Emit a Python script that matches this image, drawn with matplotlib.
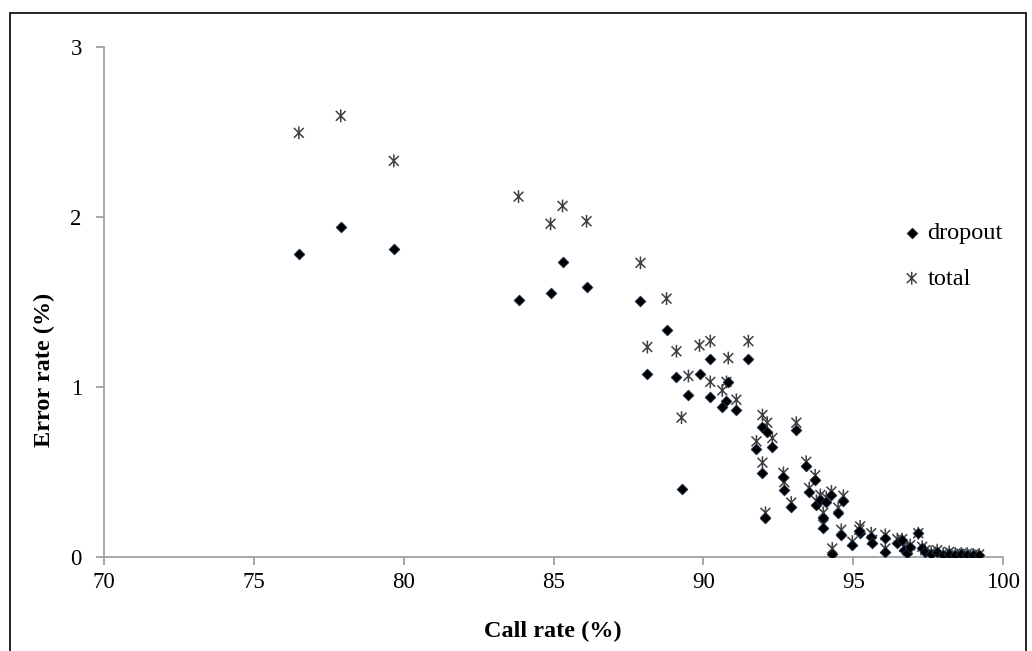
import numpy as np
import matplotlib.pyplot as plt
from matplotlib.path import Path
from matplotlib.patches import Rectangle

# call rate (%) shared by both series
call_rate = [76.5, 77.9, 79.67, 83.83, 84.9, 85.3, 86.1, 87.9, 88.77, 88.13,
             89.1, 89.27, 89.5, 89.87, 90.23, 91.5, 90.23, 90.83, 90.77, 90.63,
             91.1, 91.97, 92.13, 93.1, 91.77, 92.3, 91.97, 92.67, 92.7, 93.43,
             93.73, 93.53, 92.93, 93.77, 93.9, 94.1, 94.27, 94.67, 94.5, 94.0,
             94.0, 94.6, 95.23, 95.2, 94.97, 95.6, 95.63, 96.07, 96.07, 94.3,
             96.47, 96.63, 96.7, 96.8, 97.17, 92.07,
             96.9, 97.3, 97.4, 97.6, 97.8, 98.0, 98.2, 98.4, 98.6, 98.8,
             99.0, 99.2]

dropout = [1.78, 1.94, 1.81, 1.51, 1.55, 1.735, 1.59, 1.505, 1.335, 1.075,
           1.06, 0.40, 0.95, 1.075, 1.165, 1.165, 0.94, 1.03, 0.92, 0.88,
           0.865, 0.765, 0.735, 0.745, 0.635, 0.645, 0.495, 0.47, 0.395, 0.535,
           0.455, 0.38, 0.295, 0.305, 0.335, 0.325, 0.365, 0.33, 0.26, 0.23,
           0.17, 0.13, 0.14, 0.155, 0.07, 0.12, 0.08, 0.11, 0.03, 0.02,
           0.08, 0.10, 0.04, 0.025, 0.14, 0.23,
           0.06, 0.05, 0.03, 0.02, 0.03, 0.01, 0.02, 0.01, 0.015, 0.01,
           0.01, 0.01]

total = [2.495, 2.595, 2.33, 2.12, 1.96, 2.065, 1.975, 1.73, 1.52, 1.235,
         1.21, 0.82, 1.065, 1.245, 1.27, 1.27, 1.03, 1.17, 1.03, 0.98,
         0.925, 0.835, 0.79, 0.79, 0.68, 0.70, 0.555, 0.495, 0.44, 0.56,
         0.48, 0.405, 0.32, 0.33, 0.365, 0.35, 0.385, 0.36, 0.29, 0.26,
         0.19, 0.16, 0.18, 0.16, 0.09, 0.14, 0.10, 0.13, 0.05, 0.05,
         0.105, 0.105, 0.06, 0.04, 0.14, 0.26,
         0.07, 0.06, 0.04, 0.03, 0.04, 0.02, 0.03, 0.02, 0.02, 0.02,
         0.015, 0.015]

x_ticks = [70, 75, 80, 85, 90, 95, 100]
y_ticks = [0, 1, 2, 3]

plt.rcParams['font.family'] = ['Liberation Serif', 'DejaVu Serif']

# excel-like star marker: x with a vertical bar
star = Path([(-1, -1), (1, 1), (-1, 1), (1, -1), (0, -1.3), (0, 1.3)],
            [Path.MOVETO, Path.LINETO, Path.MOVETO, Path.LINETO,
             Path.MOVETO, Path.LINETO])

fig = plt.figure(figsize=(10.32, 6.51), dpi=100)
ax = fig.add_axes([0.1008, 0.1444, 0.8712, 0.7834])

ax.scatter(call_rate, total, marker=star, s=85, facecolor='none',
           edgecolor='#404040', linewidth=1.1, label='total', zorder=2)
ax.scatter(call_rate, dropout, marker='D', s=32, color='black',
           edgecolor='#2a4a70', linewidth=0.4, label='dropout', zorder=3)

ax.set_xlim(70, 100)
ax.set_ylim(0, 3)
ax.set_xticks(x_ticks)
ax.set_yticks(y_ticks)
for s in ['top', 'right']:
    ax.spines[s].set_visible(False)
for s in ['left', 'bottom']:
    ax.spines[s].set_color('#a0a0a0')
    ax.spines[s].set_linewidth(1.3)
ax.tick_params(direction='out', length=6, width=1.3, color='#a0a0a0',
               labelsize=16.5)
ax.tick_params(axis='y', pad=10)
ax.tick_params(axis='x', pad=5)

ax.set_xlabel('Call rate (%)', fontsize=17.5, fontweight='bold')
ax.set_ylabel('Error rate (%)', fontsize=17.5, fontweight='bold')
ax.xaxis.set_label_coords(0.499, -0.125)
ax.yaxis.set_label_coords(-0.055, 0.367)

h, l = ax.get_legend_handles_labels()
ax.legend(h[::-1], l[::-1], loc='upper left', bbox_to_anchor=(0.874, 0.675),
          frameon=False, fontsize=17.5, handletextpad=0.15, labelspacing=0.95,
          handlelength=1.0, borderaxespad=0)

fig.patches.append(Rectangle((10 / 1032, -0.05), 1016 / 1032, 1.05 - 13 / 651,
                             transform=fig.transFigure, fill=False,
                             edgecolor='black', linewidth=1.2))

fig.savefig('out.png', dpi=100)
